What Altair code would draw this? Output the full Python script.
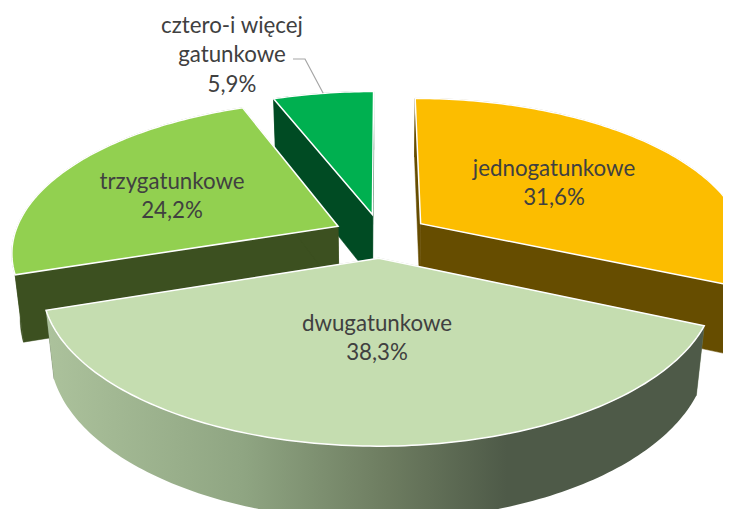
import math
import altair as alt

# Chart values
categories = ["jednogatunkowe", "dwugatunkowe", "trzygatunkowe", "cztero-i więcej gatunkowe"]
shares = [31.6, 38.3, 24.2, 5.9]
top_colors = ["#FCBD00", "#C5DDB0", "#92D050", "#00B050"]
side_colors = ["#664D00", "#6F7F62", "#3C5020", "#004B23"]
label_lines = [["jednogatunkowe"], ["dwugatunkowe"], ["trzygatunkowe"], ["cztero-i więcej", "gatunkowe"]]

# Perspective model of the tilted, exploded pie (pixels inside the plot area)
XC, YC = 373.0, 227.6
C, A, B = 324.0, 149.2, 0.1626
EXPLODE = 0.148
DEPTH_K, DEPTH_M = 0.0227, 67.0


def project(px, py, low=False):
    d = 1 - B * py + (DEPTH_K if low else 0)
    return [XC + C * px / d, YC + (A * py + (DEPTH_M if low else 0)) / d]


def feature(points, fill, stroke, width):
    ring = points + [points[0]]
    return {
        "type": "Feature",
        "geometry": {"type": "Polygon", "coordinates": [ring]},
        "properties": {"fill": fill, "stroke": stroke, "sw": width},
    }


slices = []
start = 0.0
for value, top, side in zip(shares, top_colors, side_colors):
    end = start + value * 3.6
    mid = math.radians((start + end) / 2)
    ox, oy = EXPLODE * math.sin(mid), -EXPLODE * math.cos(mid)
    steps = max(2, int(end - start))
    thetas = [math.radians(start + (end - start) * i / steps) for i in range(steps + 1)]
    rim = [(ox + math.sin(t), oy - math.cos(t)) for t in thetas]
    top_pts = [project(*p) for p in rim]
    low_pts = [project(*p, low=True) for p in rim]
    apex_t, apex_l = project(ox, oy), project(ox, oy, low=True)
    slices.append({
        "rim": feature(top_pts + low_pts[::-1], side, side, 0.5),
        "side_a": feature([apex_t, top_pts[0], low_pts[0], apex_l], side, side, 0.5),
        "side_b": feature([apex_t, top_pts[-1], low_pts[-1], apex_l], side, side, 0.5),
        "top": feature([apex_t] + top_pts, top, "#FFFFFF", 1.5),
    })
    start = end

jed, dwu, trz, czt = slices
back = [
    czt["rim"], czt["side_a"], czt["side_b"], czt["top"],
    trz["rim"], trz["side_a"], trz["side_b"], trz["top"],
    jed["rim"], jed["side_b"], jed["side_a"], jed["top"],
    dwu["side_a"], dwu["side_b"],
]

PROJ = dict(type="identity", scale=1, translate=[0, 0])


def shapes(features):
    return (
        alt.Chart(alt.Data(values=features))
        .mark_geoshape(clip=True)
        .encode(
            fill=alt.Fill("properties.fill:N", scale=None),
            stroke=alt.Stroke("properties.stroke:N", scale=None),
            strokeWidth=alt.StrokeWidth("properties.sw:Q", scale=None),
        )
        .project(**PROJ)
    )


rim_gradient = alt.Gradient(
    gradient="linear", x1=0, x2=1, y1=0, y2=0,
    stops=[
        alt.GradientStop(color="#ACC29C", offset=0.0),
        alt.GradientStop(color="#8FA582", offset=0.3),
        alt.GradientStop(color="#6D7C60", offset=0.52),
        alt.GradientStop(color="#4E5A48", offset=0.7),
        alt.GradientStop(color="#4E5A48", offset=1.0),
    ],
)
dwu_rim = (
    alt.Chart(alt.Data(values=[dwu["rim"]]))
    .mark_geoshape(clip=True, fill=rim_gradient, strokeWidth=0)
    .project(**PROJ)
)

# Leader line from the outside label to its slice
leader_top = project(EXPLODE * math.sin(math.radians(349.4)) + math.sin(math.radians(349.4)),
                     -EXPLODE * math.cos(math.radians(349.4)) - math.cos(math.radians(349.4)))
leader = (
    alt.Chart(alt.Data(values=[{
        "type": "Feature",
        "geometry": {"type": "LineString", "coordinates": [[285, 51], [297, 51], leader_top]},
        "properties": {},
    }]))
    .mark_geoshape(filled=False, stroke="#A6A6A6", strokeWidth=1.2)
    .project(**PROJ)
)

label_centers = [(546, 161), (369, 316), (164, 174), (224, 18)]
rows = []
for lines, value, (cx, cy) in zip(label_lines, shares, label_centers):
    texts = lines + [f"{value:.1f}%".replace(".", ",")]
    for i, t in enumerate(texts):
        rows.append({"t": t, "px": cx, "py": cy + i * 29.3})

labels = (
    alt.Chart(alt.Data(values=rows))
    .mark_text(font="Lato", fontSize=22.3, color="#404040", align="center", baseline="middle")
    .encode(text="t:N", longitude="px:Q", latitude="py:Q")
    .project(**PROJ)
)

chart = (
    alt.layer(shapes(back), dwu_rim, shapes([dwu["top"]]), leader, labels)
    .properties(width=715, height=501, padding=0, autosize=alt.AutoSizeParams(type="none"))
    .configure_view(stroke=None)
)
chart.save("out.html", embed_options={"renderer": "svg", "actions": False})
